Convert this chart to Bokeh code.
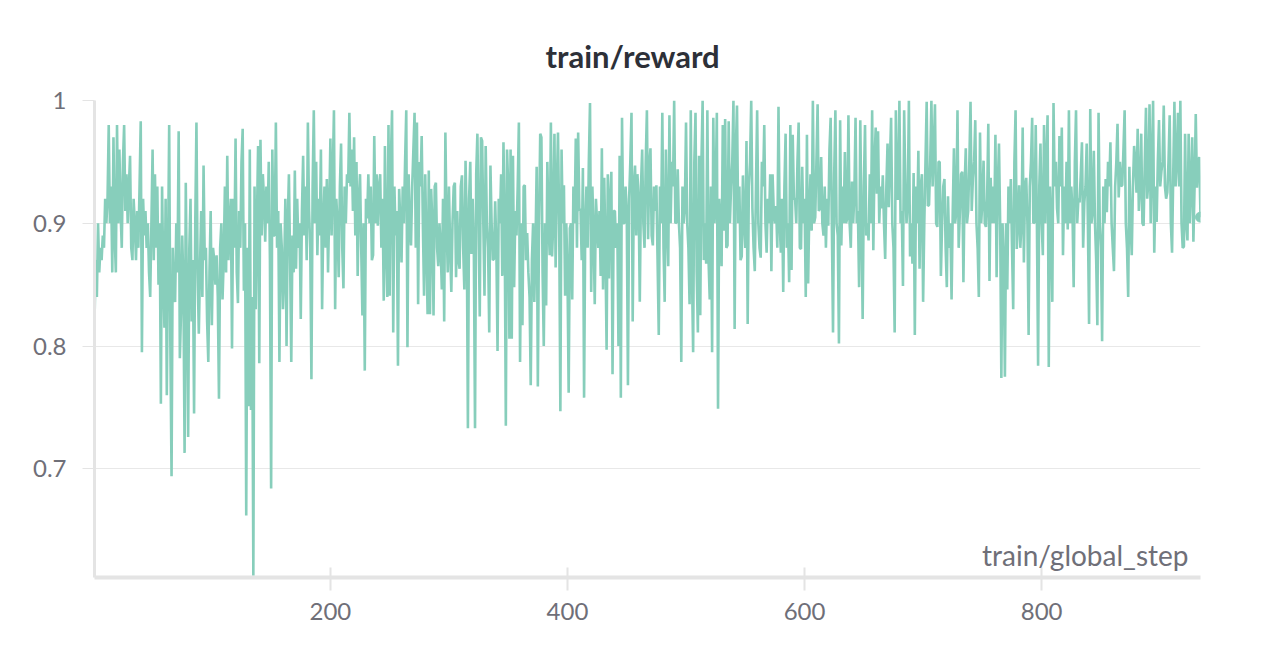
from bokeh.plotting import figure
from bokeh.models import Range1d, FixedTicker, Label
from bokeh.embed import file_html
from bokeh.resources import INLINE

# ---- data ----
reward_part1 = [0.82,0.87,0.84,0.90,0.86,0.88,0.87,0.89,0.88,0.92,0.90,0.92,0.98,0.90,0.93,0.86,0.97,0.89,0.86,0.98,
0.90,0.96,0.91,0.88,0.95,0.98,0.91,0.94,0.90,0.93,0.955,0.88,0.87,0.92,0.90,0.87,0.91,0.88,0.93,0.983,
0.795,0.92,0.89,0.91,0.88,0.90,0.86,0.84,0.90,0.96,0.87,0.94,0.88,0.93,0.85,0.90,0.753,0.93,0.86,0.815,
0.92,0.76,0.87,0.98,0.80,0.694,0.88,0.84,0.836,0.90,0.86,0.975,0.79,0.828,0.89,0.85,0.713,0.933,0.84,0.726,
0.88,0.92,0.82,0.87,0.745,0.90,0.982,0.86,0.81,0.864,0.91,0.84,0.947,0.87,0.88,0.82,0.787,0.86,0.91,0.817,
0.88,0.87,0.85,0.874,0.84,0.757,0.88,0.90,0.838,0.87,0.93,0.86,0.955]
reward_part2 = [0.87,0.90,0.92,0.798,0.92,0.88,0.969,0.86,0.835,0.91,0.88,0.95,0.977,0.845,0.90,0.662,0.88,0.751,0.96,0.748,
0.84,0.613,0.93,0.83,0.90,0.963,0.786,0.968,0.89,0.94,0.92,0.885,0.93,0.90,0.95,0.87,0.684,0.96,0.89,0.89,
0.982,0.88,0.91,0.787,0.90,0.88,0.83,0.86,0.92,0.80,0.90,0.94,0.87,0.787,0.89,0.86,0.943,0.863,0.92,0.88,
0.90,0.822,0.91,0.955,0.89,0.93,0.87,0.982,0.91,0.88,0.773,0.93,0.992,0.90,0.95,0.874,0.92,0.89,0.96,0.83,
0.90,0.93,0.88,0.936,0.86,0.91,0.969,0.89,0.94,0.992,0.83,0.92,0.90,0.856,0.93,0.965,0.88,0.847,0.93,0.90,
0.94,0.933,0.99,0.93,0.96,0.91,0.97,0.89,0.95,0.857,0.92,0.94,0.88,0.825,0.90,0.78,0.92,0.904,0.94,0.90]
reward_part3 = [0.93,0.87,0.874,0.971,0.90,0.94,0.898,0.93,0.94,0.88,0.92,0.837,0.963,0.88,0.84,0.98,0.841,0.95,0.992,0.811,
0.93,0.89,0.91,0.784,0.928,0.90,0.868,0.93,0.90,0.95,0.992,0.799,0.94,0.90,0.882,0.93,0.96,0.99,0.88,0.982,
0.834,0.95,0.93,0.971,0.90,0.841,0.94,0.88,0.826,0.943,0.826,0.928,0.90,0.825,0.93,0.933,0.88,0.865,0.90,0.88,
0.846,0.92,0.82,0.974,0.90,0.86,0.93,0.88,0.844,0.90,0.93,0.933,0.856,0.91,0.87,0.863,0.93,0.939,0.88,0.846,
0.951,0.90,0.733,0.92,0.95,0.875,0.92,0.88,0.733,0.94,0.973,0.90,0.824,0.97,0.967,0.90,0.841,0.963,0.90,0.88,
0.811,0.947,0.90,0.87,0.871,0.918,0.88,0.796,0.92,0.90,0.94,0.857,0.966,0.90,0.735,0.96,0.93,0.806]
reward_part4 = [0.96,0.806,0.955,0.848,0.91,0.89,0.93,0.982,0.787,0.90,0.817,0.93,0.931,0.87,0.892,0.86,0.84,0.768,0.87,0.90,
0.836,0.88,0.946,0.767,0.90,0.973,0.97,0.86,0.80,0.90,0.833,0.95,0.90,0.874,0.982,0.873,0.90,0.973,0.864,0.93,
0.974,0.90,0.747,0.96,0.90,0.931,0.841,0.90,0.86,0.762,0.896,0.90,0.838,0.93,0.90,0.969,0.88,0.974,0.91,0.912,
0.87,0.945,0.758,0.90,0.93,0.88,0.95,0.998,0.844,0.93,0.893,0.834,0.92,0.90,0.88,0.91,0.857,0.961,0.846,0.937,
0.88,0.797,0.94,0.855,0.92,0.942,0.777,0.91,0.91,0.88,0.90,0.80,0.955,0.758,0.986,0.90,0.90,0.93,0.91,0.768,
0.92,0.95,0.99,0.82,0.93,0.947,0.89,0.94,0.92,0.836,0.93,0.96,0.90,0.88,0.95,0.992,0.887,0.947]
reward_part5 = [0.961,0.89,0.882,0.93,0.91,0.931,0.87,0.809,0.93,0.90,0.990,0.88,0.836,0.96,0.90,0.865,0.988,0.90,0.95,0.93,
1.0,0.90,0.901,0.944,0.90,0.88,0.787,0.93,0.90,0.912,0.982,0.90,0.88,0.834,0.992,0.86,0.795,0.95,0.990,0.86,
0.811,0.955,0.825,0.95,1.0,0.87,0.90,0.867,0.992,0.87,0.838,0.93,0.795,0.986,0.90,0.925,0.99,0.749,0.92,0.90,
0.865,0.98,0.894,0.985,0.88,0.882,0.983,0.90,0.93,0.95,1.0,0.814,0.96,0.996,0.90,0.93,0.87,0.873,0.939,0.90,
0.88,0.967,0.818,0.93,0.95,1.0,0.912,0.88,0.861,0.93,0.992,0.90,0.88,0.872,0.95,0.93,0.98,0.90,0.876,0.92,
0.90,0.94,0.861,0.940,0.91,0.90,0.914,0.88,0.995,0.90,0.876,0.92,0.844,0.93,0.973,0.88,0.90,0.852]
reward_part6 = [0.98,0.862,0.972,0.92,0.92,0.90,0.95,0.982,0.88,0.879,0.946,0.90,0.92,0.84,0.972,0.851,0.91,0.94,0.894,1.0,
0.90,0.905,0.95,0.997,0.91,0.912,0.954,0.90,0.89,0.93,0.88,0.92,0.898,0.96,0.986,0.90,0.811,0.94,0.992,0.90,
0.89,0.802,0.984,0.882,0.93,0.90,0.958,0.90,0.904,0.988,0.90,0.88,0.934,0.90,0.923,0.986,0.90,0.91,0.848,0.984,
0.90,0.822,0.93,0.980,0.89,0.90,0.886,0.94,0.90,0.992,0.878,0.95,0.978,0.924,0.975,0.90,0.93,0.912,0.939,0.90,
0.871,0.93,0.965,0.913,0.95,0.986,0.90,0.88,0.811,0.992,0.92,0.92,1.0,0.90,0.91,0.849,0.992,0.93,0.90,0.917,
1.0,0.873,0.90,0.867,0.941,0.809,0.93,0.90,0.959,0.863,0.93,0.94,0.836,0.90,0.95,0.999,0.914]
reward_part7 = [0.915,0.95,1.0,0.93,0.96,0.997,0.90,0.897,0.95,0.950,0.857,0.90,0.93,0.936,0.88,0.848,0.922,0.88,0.90,0.838,
0.91,0.961,0.90,0.909,0.992,0.88,0.909,0.94,0.942,0.852,0.93,0.961,0.90,0.910,0.95,0.999,0.91,0.937,0.95,0.984,
0.90,0.88,0.840,0.974,0.90,0.918,0.951,0.90,0.897,0.92,0.981,0.853,0.937,0.90,0.93,0.90,0.972,0.856,0.93,0.965,
0.90,0.774,0.90,0.87,0.775,0.90,0.846,0.93,0.90,0.936,0.88,0.830,0.95,0.992,0.879,0.90,0.931,0.88,0.90,0.978,
0.868,0.93,0.937,0.90,0.809,0.93,0.95,0.986,0.90,0.901,0.980,0.90,0.784,0.93,0.965,0.90,0.874,0.980,0.90,0.95,
0.988,0.783,0.93,0.90,0.836,0.998,0.93,0.95,0.912,0.90,0.971,0.93,0.978,0.874,0.93,0.90,0.95,0.895]
reward_part8 = [0.992,0.90,0.93,0.91,0.848,0.95,0.992,0.90,0.92,0.917,0.94,0.966,0.88,0.917,0.93,0.965,0.90,0.818,0.993,0.90,
0.909,0.959,0.90,0.87,0.817,0.990,0.90,0.88,0.804,0.93,0.90,0.936,0.909,0.95,0.93,0.966,0.90,0.88,0.861,0.93,
0.95,0.981,0.921,0.95,0.93,0.931,0.96,0.992,0.90,0.88,0.840,0.946,0.90,0.874,0.93,0.963,0.95,0.925,0.977,0.91,
0.93,0.973,0.90,0.898,0.95,0.994,0.92,0.933,0.997,0.90,0.95,1.0,0.876,0.93,0.901,0.95,0.984,0.93,0.942,0.95,
0.996,0.93,0.92,0.925,0.95,0.988,0.90,0.876,0.94,0.999,0.93,0.95,0.990,0.93,1.0,0.90,0.88,0.881,0.973,0.90,
0.886,0.973,0.90,0.93,0.970,0.885,0.93,0.989,0.929,0.95,0.954,0.905]

reward = (reward_part1 + reward_part2 + reward_part3 + reward_part4 +
          reward_part5 + reward_part6 + reward_part7 + reward_part8)
global_step = list(range(1, len(reward) + 1))

x_ticks = [200, 400, 600, 800]
y_ticks = [0.7, 0.8, 0.9, 1]
title_text = "train/reward"
x_label_text = "train/global_step"

# ---- figure ----
LINE = "#87cebb"
GRID = "#e8e8e8"
TXT = "#6f6f78"
FONT = "Lato"

p = figure(width=1248, height=648, output_backend="svg", toolbar_location=None,
           x_range=Range1d(1, len(reward)), y_range=Range1d(0.6115, 1.0),
           min_border_left=94, min_border_right=48, min_border_top=100, min_border_bottom=71)
p.outline_line_color = None
p.background_fill_color = "white"
p.border_fill_color = "white"

p.title.text = title_text
p.title.align = "left"
p.title.offset = 451
p.title.text_font = FONT
p.title.text_font_size = "31px"
p.title.text_font_style = "bold"
p.title.text_color = "#2d3038"
p.title.standoff = 51

p.line(global_step, reward, line_color=LINE, line_width=2.6)
p.scatter([global_step[-1]], [reward[-1]], size=10, color=LINE)

p.xgrid.grid_line_color = None
p.ygrid.grid_line_color = GRID
p.ygrid.grid_line_width = 1

p.xaxis.ticker = FixedTicker(ticks=x_ticks)
p.yaxis.ticker = FixedTicker(ticks=y_ticks)
p.yaxis.major_label_overrides = {1: "1"}

for ax in (p.xaxis[0], p.yaxis[0]):
    ax.axis_line_color = "#e4e4e4"
    ax.major_tick_line_color = "#e4e4e4"
    ax.minor_tick_line_color = None
    ax.major_label_text_font = FONT
    ax.major_label_text_font_size = "24px"
    ax.major_label_text_color = TXT

p.xaxis.axis_line_width = 4
p.xaxis.major_tick_line_width = 2
p.xaxis.major_tick_in = 10
p.xaxis.major_tick_out = 13
p.xaxis.major_label_standoff = 12

p.yaxis.axis_line_width = 3
p.yaxis.major_tick_line_width = 1
p.yaxis.major_tick_in = 0
p.yaxis.major_tick_out = 12
p.yaxis.major_label_standoff = 16

p.add_layout(Label(x=len(reward), y=0.6115, text=x_label_text, text_align="right",
                   text_baseline="bottom", x_offset=-12, y_offset=6,
                   text_font=FONT, text_font_size="28px", text_color=TXT))

open("out.html", "w").write(file_html(p, INLINE))
